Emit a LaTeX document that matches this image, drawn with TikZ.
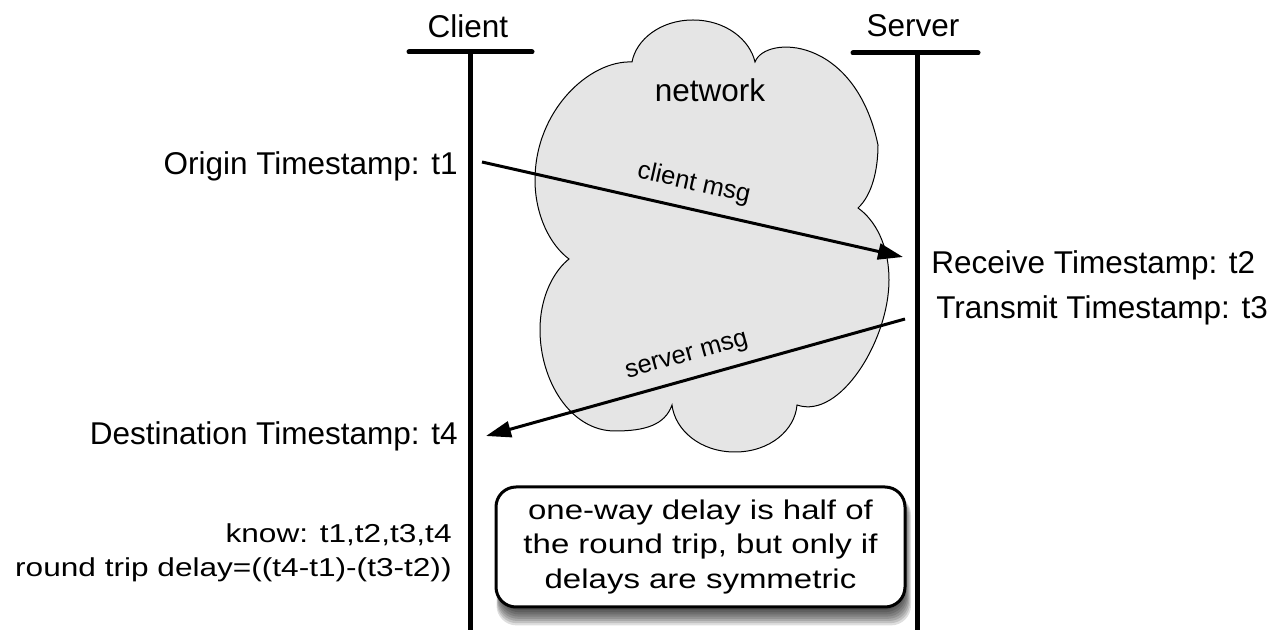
\documentclass[tikz,border=0pt]{standalone}
\usepackage{fontspec}
\setmainfont{Liberation Sans}
\usetikzlibrary{arrows.meta}
\begin{document}
\begin{tikzpicture}[x=0.5pt,y=-0.5pt,
  lbl/.style={inner sep=0pt, font=\fontsize{15.75}{18}\selectfont},
  msglbl/.style={inner sep=0pt, font=\fontsize{12.75}{15}\selectfont, sloped, above=6pt},
  life/.style={line width=2.5pt, line cap=round},
  msg/.style={line width=1.5pt, -{Triangle[length=12.5pt,width=8pt]}},
  cloudshape/.style={fill=black!10, draw=black, line width=0.5pt},
  notebox/.style={draw=black, line width=1.5pt, rounded corners=10pt, fill=white,
    minimum width=204.5pt, minimum height=60pt, inner sep=0pt,
    font=\fontsize{16.5}{21.34}\selectfont},
  shadowlayer/.style={fill=black, opacity=0.13, rounded corners=10pt}
]
\useasboundingbox[fill=white] (0,0) rectangle (1270,630);

% cloud
\path[cloudshape] (632,62)
 .. controls (636,40) and (660,20) .. (693,20)
 .. controls (726,20) and (750,40) .. (755,62)
 .. controls (765,35) and (855,35) .. (878,145)
 .. controls (878,170) and (872,195) .. (858,208)
 .. controls (875,220) and (889,245) .. (889,280)
 .. controls (889,340) and (840,420) .. (797,405)
 .. controls (795,430) and (770,452) .. (735,452)
 .. controls (700,452) and (675,430) .. (672,405)
 .. controls (665,425) and (645,431) .. (615,431)
 .. controls (570,431) and (540,380) .. (540,330)
 .. controls (540,295) and (555,270) .. (569,259)
 .. controls (550,245) and (535,215) .. (535,180)
 .. controls (535,110) and (590,60) .. (632,62) -- cycle;
\node[lbl, anchor=base] (net) at (710,102) {network};

% box shadow
\foreach \e in {0,...,7}{
  \fill[shadowlayer] ({500-0.5*\e},495) rectangle ({904+\e},{610+2.2*\e});
}

% lifelines
\coordinate (ctop) at (470,52);
\coordinate (cbot) at (470,640);
\coordinate (cbarl) at (409,52);
\coordinate (cbarr) at (532,52);
\coordinate (stop) at (917,53);
\coordinate (sbot) at (917,640);
\coordinate (sbarl) at (853,53);
\coordinate (sbarr) at (978,53);
\draw[life] (cbarl) -- (cbarr);
\draw[life] (ctop) -- (cbot);
\draw[life] (sbarl) -- (sbarr);
\draw[life] (stop) -- (sbot);
\node[lbl, anchor=base] (client) at (468,38) {Client};
\node[lbl, anchor=base] (server) at (913,37) {Server};

% timestamps
\node[lbl, anchor=base east] (origin) at (458,175) {Origin Timestamp: t1};
\node[lbl, anchor=base west] (receive) at (931,274) {Receive Timestamp: t2};
\node[lbl, anchor=base west] (transmit) at (936,319) {Transmit Timestamp: t3};
\node[lbl, anchor=base east] (dest) at (458,445) {Destination Timestamp: t4};

% messages
\coordinate (t1) at (482,162);
\coordinate (t2) at (903,257);
\coordinate (t3) at (905,319);
\coordinate (t4) at (486,436);
\draw[msg] (t1) -- node[msglbl, pos=0.49] (cmsg) {client msg} (t2);
\draw[msg] (t3) -- (t4);
\path (t4) -- node[msglbl, pos=0.494] (smsg) {server msg} (t3);

% know block
\node[inner sep=0pt, anchor=base east, font=\fontsize{15.8}{20.73}\selectfont] (know) at (452,543)
  {\scalebox{1}[0.82]{\begin{tabular}[t]{@{}r@{}}know: t1,t2,t3,t4\\round trip delay=((t4-t1)-(t3-t2))\end{tabular}}};

% note box
\node[notebox] (note) at (700.5,547)
  {\scalebox{1}[0.82]{\begin{tabular}{@{}c@{}}one-way delay is half of\\the round trip, but only if\\delays are symmetric\end{tabular}}};
\end{tikzpicture}
\end{document}
